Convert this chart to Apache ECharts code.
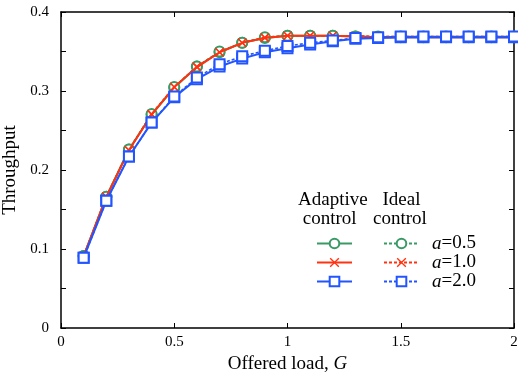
<!DOCTYPE html>
<html>
<head>
<meta charset="utf-8">
<script src="https://cdn.jsdelivr.net/npm/echarts@6/dist/echarts.min.js"></script>
<style>html,body{margin:0;padding:0;background:#fff;}#c{width:518px;height:374px;}</style>
</head>
<body>
<div id="c"></div>
<script>
const G = [0.1,0.2,0.3,0.4,0.5,0.6,0.7,0.8,0.9,1.0,1.1,1.2,1.3,1.4,1.5,1.6,1.7,1.8,1.9,2.0];
const adaptA05 = [0.091,0.166,0.226,0.270,0.304,0.331,0.349,0.361,0.367,0.370,0.370,0.370,0.369,0.368,0.368,0.368,0.368,0.368,0.368,0.368];
const idealA05 = [0.091,0.166,0.226,0.271,0.305,0.331,0.350,0.361,0.368,0.370,0.370,0.370,0.369,0.369,0.369,0.369,0.369,0.369,0.369,0.369];
const adaptA10 = [0.091,0.166,0.225,0.270,0.305,0.330,0.349,0.361,0.367,0.370,0.370,0.370,0.369,0.368,0.368,0.368,0.368,0.368,0.368,0.368];
const idealA10 = [0.091,0.166,0.225,0.271,0.305,0.331,0.349,0.361,0.368,0.370,0.370,0.370,0.370,0.369,0.369,0.369,0.369,0.369,0.369,0.369];
const adaptA20 = [0.089,0.161,0.217,0.260,0.292,0.315,0.331,0.341,0.349,0.354,0.359,0.363,0.366,0.367,0.368,0.368,0.368,0.368,0.368,0.368];
const idealA20 = [0.089,0.161,0.217,0.260,0.293,0.317,0.334,0.344,0.351,0.357,0.361,0.364,0.367,0.368,0.369,0.369,0.369,0.369,0.369,0.369];
const aLabels = ['0.5','1.0','2.0'];
const xTicks = {min:0, max:2, interval:0.5};
const yTicks = {min:0, max:0.4, interval:0.05};

const GREEN = '#3a9a66', RED = '#ff3311', BLUE = '#2255ff';
const FONT = 'Liberation Serif';
const CROSS = 'path://M0,1L1,0L5,4L9,0L10,1L6,5L10,9L9,10L5,6L1,10L0,9L4,5Z';

function pairs(ys){ return G.map((g,i)=>[g, ys[i]]); }
function mk(name, ys, color, symbol, dashed, z){
  const isCross = symbol === CROSS;
  return {
    name, type:'line', data: pairs(ys), z,
    symbol, symbolSize: isCross ? 9 : 10,
    showAllSymbol: true,
    lineStyle:{color, width: dashed?1.6:2, type: dashed?[3,2]:'solid'},
    itemStyle: isCross ? {color, borderWidth:0} : {color, borderColor: color, borderWidth:1.3},
    emphasis:{disabled:true}, animation:false
  };
}
const series = [
  mk('Adaptive a=0.5', adaptA05, GREEN, 'emptyCircle', false, 2),
  mk('Ideal a=0.5', idealA05, GREEN, 'emptyCircle', true, 2),
  mk('Adaptive a=1.0', adaptA10, RED, CROSS, false, 3),
  mk('Ideal a=1.0', idealA10, RED, CROSS, true, 3),
  mk('Adaptive a=2.0', adaptA20, BLUE, 'emptyRect', false, 4),
  mk('Ideal a=2.0', idealA20, BLUE, 'emptyRect', true, 4)
];

const axisLine = {show:true, onZero:false, lineStyle:{color:'#000', width:1.5}};
const tickIn = {show:true, inside:true, length:5, lineStyle:{color:'#000', width:1}};
const legendText = {fontFamily:FONT, fontSize:19, color:'#000', lineHeight:19,
  rich:{i:{fontFamily:FONT, fontSize:19, fontStyle:'italic', lineHeight:19}}};

const chart = echarts.init(document.getElementById('c'), null, {renderer:'canvas'});
chart.setOption({
  animation:false,
  backgroundColor:'#fff',
  grid:{left:61, right:4, top:12, bottom:46, containLabel:false, outerBoundsMode:'none'},
  xAxis:[
    {type:'value', ...xTicks, position:'bottom', axisLine, axisTick:tickIn, splitLine:{show:false},
     axisLabel:{fontFamily:FONT, fontSize:15, color:'#000', margin:7,
       formatter:v=>String(Math.round(v*10)/10)},
     name:'Offered load, {i|G}', nameLocation:'middle', nameGap:25,
     nameTextStyle:{fontFamily:FONT, fontSize:19, color:'#000', verticalAlign:'top',
       rich:{i:{fontFamily:FONT, fontSize:19, fontStyle:'italic'}}}},
    {type:'value', ...xTicks, position:'top', axisLine, axisTick:tickIn, axisLabel:{show:false}, splitLine:{show:false}}
  ],
  yAxis:[
    {type:'value', ...yTicks, position:'left', axisLine, axisTick:tickIn, splitLine:{show:false},
     axisLabel:{fontFamily:FONT, fontSize:15, color:'#000', margin:12,
       formatter:v=>{const t=v*10; if(Math.abs(t-Math.round(t))>1e-6) return ''; return v===0?'0':String(Math.round(t)/10);}},
     name:'Throughput', nameLocation:'middle', nameGap:37, nameRotate:90,
     nameTextStyle:{fontFamily:FONT, fontSize:19, color:'#000'}},
    {type:'value', ...yTicks, position:'right', axisLine, axisTick:tickIn, axisLabel:{show:false}, splitLine:{show:false}}
  ],
  legend:[
    {data:['Adaptive a=0.5','Adaptive a=1.0','Adaptive a=2.0'], orient:'vertical', left:316, top:234,
     itemWidth:35, itemHeight:12, itemGap:0, padding:0, selectedMode:false,
     formatter:()=>' ', textStyle:legendText},
    {data:['Ideal a=0.5','Ideal a=1.0','Ideal a=2.0'], orient:'vertical', left:383, top:234,
     itemWidth:35, itemHeight:12, itemGap:0, padding:0, selectedMode:false,
     formatter:n=>'{i|a}=' + n.split('=')[1], textStyle:{...legendText, padding:[0,0,0,8]}}
  ],
  graphic:[
    {type:'text', left:298, top:191, style:{text:'Adaptive\n control', font:'19px "Liberation Serif"', fill:'#000', lineHeight:19}},
    {type:'text', left:373, top:191, style:{text:'  Ideal\ncontrol', font:'19px "Liberation Serif"', fill:'#000', lineHeight:19}}
  ],
  series
});
</script>
</body>
</html>
